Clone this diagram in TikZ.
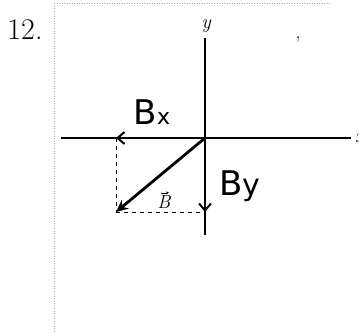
\documentclass[tikz,border=0pt]{standalone}
\usepackage{fontspec}
\usepackage{amsmath}
\usetikzlibrary{arrows.meta, positioning}
\newfontfamily\handfont{DejaVu Sans}

\begin{document}
\begin{tikzpicture}[
  x=1pt, y=-1pt,
  axisline/.style={draw=black, line width=1.1pt},
  compvec/.style={draw=black, line width=2.4pt, -{Straight Barb[length=7pt, width=12pt, line width=2pt]}},
  resvec/.style={draw=black, line width=2.8pt, -{Stealth[length=12pt, width=11pt]}},
  guide/.style={draw=black, line width=1pt, dash pattern=on 4pt off 4pt},
  frameline/.style={draw=gray!70, line width=0.5pt, dotted},
  handlbl/.style={font=\handfont\fontsize{34}{34}\selectfont, inner sep=0pt}
]
\useasboundingbox (0,0) rectangle (359,333);
% frame of the answer box
\draw[frameline] (54,3) -- (54,333);
\draw[frameline] (54,3) -- (330,3);
\node[font=\fontsize{30}{30}\selectfont, inner sep=0pt] (num) at (25,30) {12.};
% axes
\coordinate (O) at (205,138);
\coordinate (xl) at (61,138);
\coordinate (xr) at (351,138);
\coordinate (yt) at (205,38);
\coordinate (yb) at (205,235);
\draw[axisline] (xl) -- (xr);
\draw[axisline] (yt) -- (yb);
\node[font=\itshape\fontsize{20}{20}\selectfont, inner sep=0pt] (ylbl) at (206,26) {y};
\node[font=\itshape\fontsize{20}{20}\selectfont, inner sep=0pt, anchor=west] (xlbl) at (355,138) {x};
\node[font=\fontsize{20}{20}\selectfont, inner sep=0pt] (tick) at (298,40) {,};
% components and resultant
\coordinate (Bxend) at (116,138);
\coordinate (Byend) at (205,212);
\coordinate (Bend) at (116,212);
\draw[guide] (Bxend) -- (Bend);
\draw[guide] (Bend) -- (Byend);
\draw[compvec] (O) -- (Bxend);
\draw[compvec] (O) -- (Byend);
\draw[resvec] (O) -- (Bend);
\node[handlbl] (bxlbl) at (152,112) {B{\fontsize{22}{22}\selectfont x}};
\node[handlbl] (bylbl) at (240,186) {B{\fontsize{30}{30}\selectfont y}};
\node[font=\itshape\fontsize{19}{19}\selectfont, inner sep=0pt] (blbl) at (164,202) {B};
\draw[line width=0.6pt, -{Stealth[length=3pt, width=3pt]}] ([xshift=-3pt, yshift=2.5pt]blbl.north) -- ([xshift=5pt, yshift=2.5pt]blbl.north);
\end{tikzpicture}
\end{document}
